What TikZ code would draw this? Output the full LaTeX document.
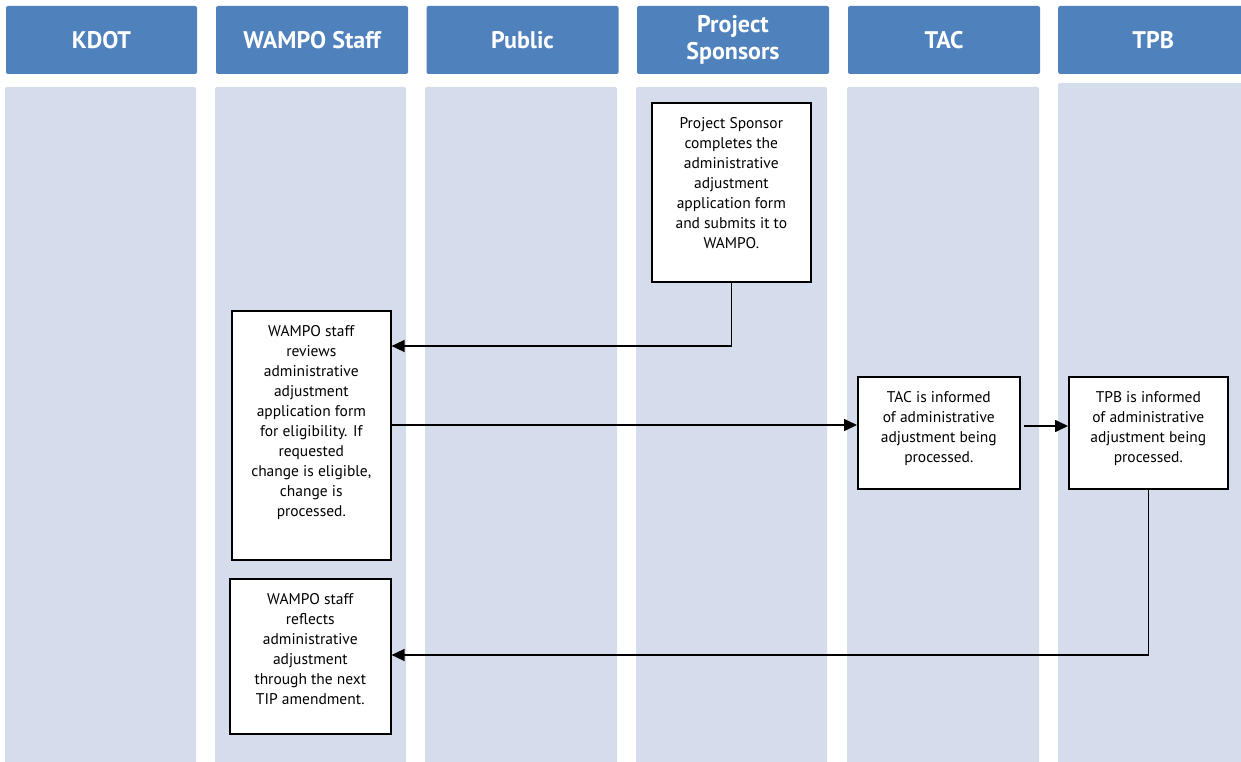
\documentclass[tikz,border=0pt]{standalone}
\usepackage{fontspec}
\setmainfont{PT Sans}
\usetikzlibrary{arrows.meta}
\definecolor{hdr}{HTML}{4F81BD}
\definecolor{lanebg}{HTML}{D5DCEC}
\begin{document}
\begin{tikzpicture}[x=1pt,y=-1pt,
  lanestyle/.style={fill=lanebg, rounded corners=2pt},
  hdrbox/.style={fill=hdr, rounded corners=2pt, text=white, align=center,
    font=\bfseries\fontsize{24}{26.5}\selectfont, minimum height=68, inner sep=0},
  stepbox/.style={draw=black, line width=1.6pt, fill=white, inner sep=0, anchor=north west},
  boxtext/.style={align=center, inner sep=0, anchor=north, font=\fontsize{15.5}{20}\selectfont},
  conn/.style={line width=1.6pt, -{Triangle[length=13pt,width=12pt]}}]
\useasboundingbox (0,0) rectangle (1241,762);
% lanes
\path[lanestyle] (5,87) rectangle (196,765);
\path[lanestyle] (215,87) rectangle (406,765);
\path[lanestyle] (425,87) rectangle (617,765);
\path[lanestyle] (636,87) rectangle (827,765);
\path[lanestyle] (847,87) rectangle (1039,765);
\path[lanestyle] (1058,83) rectangle (1245,765);
% headers
\node[hdrbox, minimum width=191] (h1) at (101.5,40) {KDOT};
\node[hdrbox, minimum width=192] (h2) at (312,40) {WAMPO Staff};
\node[hdrbox, minimum width=192] (h3) at (522.5,40) {Public};
\node[hdrbox, minimum width=192] (h4) at (733,40) {Project\\Sponsors};
\node[hdrbox, minimum width=192] (h5) at (944,40) {TAC};
\node[hdrbox, minimum width=190, anchor=west] (h6) at (1058,40) {TPB};
% boxes
\node[stepbox, minimum width=159, minimum height=179] (ps) at (651,102) {};
\node[boxtext] (pst) at ([yshift=-15pt]ps.north) {Project Sponsor\\completes the\\administrative\\adjustment\\application form\\and submits it to\\WAMPO.};
\node[stepbox, minimum width=159, minimum height=249] (w1) at (231,310) {};
\node[boxtext] (w1t) at ([yshift=-15pt]w1.north) {WAMPO staff\\reviews\\administrative\\adjustment\\application form\\for eligibility. If\\requested\\change is eligible,\\change is\\processed.};
\node[stepbox, minimum width=162, minimum height=112] (tac) at (857,376) {};
\node[boxtext] (tact) at ([yshift=-15pt]tac.north) {TAC is informed\\of administrative\\adjustment being\\processed.};
\node[stepbox, minimum width=159, minimum height=112] (tpb) at (1068,376) {};
\node[boxtext] (tpbt) at ([yshift=-15pt]tpb.north) {TPB is informed\\of administrative\\adjustment being\\processed.};
\node[stepbox, minimum width=161, minimum height=155] (w2) at (229,578) {};
\node[boxtext] (w2t) at ([yshift=-15pt]w2.north) {WAMPO staff\\reflects\\administrative\\adjustment\\through the next\\TIP amendment.};
% connectors
\coordinate (j1) at (0,346);
\coordinate (j2) at (0,425);
\coordinate (j3) at (0,426);
\coordinate (j4) at (0,655);
\draw[conn] (ps.south) |- (w1.east |- j1);
\draw[conn] (w1.east |- j2) -- (tac.west |- j2);
\draw[conn, shorten <=3pt] (tac.east |- j3) -- (tpb.west |- j3);
\draw[conn] (tpb.south) |- (w2.east |- j4);
\end{tikzpicture}
\end{document}
